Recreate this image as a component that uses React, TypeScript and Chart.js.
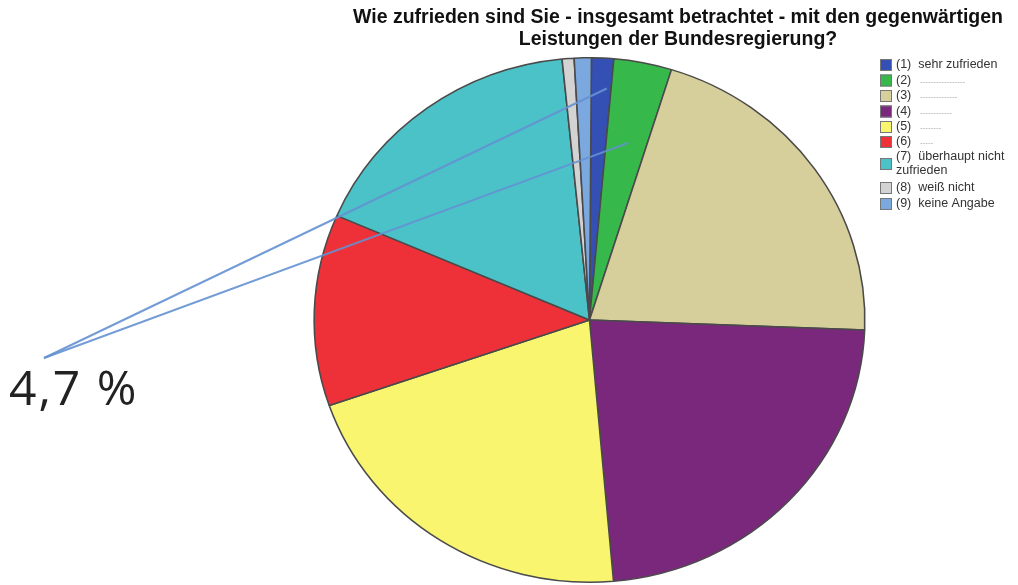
import React, { useEffect, useRef } from "react";
import { Chart, registerables } from "chart.js";

Chart.register(...registerables);

const categories = [
  "(1)  sehr zufrieden",
  "(2)  ",
  "(3)  ",
  "(4)  ",
  "(5)  ",
  "(6)  ",
  "(7)  überhaupt nicht",
  "(8)  weiß nicht",
  "(9)  keine Angabe",
];
const categoryExtraLine = ["", "", "", "", "", "", "zufrieden", "", ""];
const dashLabels = ["", "-----------------", "--------------", "------------", "--------", "-----", "", "", ""];
const shares = [1.3, 3.4, 20.8, 23.0, 21.1, 11.8, 16.9, 0.7, 1.0];
const sliceColors = [
  "#3550b5",
  "#37b84b",
  "#d6cf9b",
  "#7a287c",
  "#f9f56e",
  "#ee3139",
  "#4bc2c8",
  "#d3d3d3",
  "#7ca8e0",
];
const titleLines = [
  "Wie zufrieden sind Sie - insgesamt betrachtet - mit den gegenwärtigen",
  "Leistungen der Bundesregierung?",
];
const calloutText = "4,7 %";

const STRETCH_X = 1.05;

const overlayPlugin = {
  id: "overlay",
  beforeDatasetsDraw(chart: any) {
    const ctx = chart.ctx;
    const ca = chart.chartArea;
    const cx = (ca.left + ca.right) / 2;
    ctx.save();
    ctx.translate(cx, 0);
    ctx.scale(STRETCH_X, 1);
    ctx.translate(-cx, 0);
  },
  afterDatasetsDraw(chart: any) {
    chart.ctx.restore();
  },
  afterDraw(chart: any) {
    const ctx = chart.ctx;
    ctx.save();
    // title
    ctx.fillStyle = "#111";
    ctx.font = "bold 19.5px 'Liberation Sans', Arial, sans-serif";
    ctx.textAlign = "center";
    ctx.textBaseline = "middle";
    ctx.fillText(titleLines[0], 678, 18);
    ctx.fillText(titleLines[1], 678, 40);

    // legend
    const rowY = [65, 80.5, 96, 111.5, 127, 142, 164, 188, 204];
    ctx.textAlign = "left";
    const legendFont = "12.5px 'Liberation Sans', Arial, sans-serif";
    ctx.font = legendFont;
    categories.forEach((label, i) => {
      const y = rowY[i];
      ctx.fillStyle = sliceColors[i];
      ctx.fillRect(880, y - 6, 12, 12);
      ctx.strokeStyle = "#777";
      ctx.lineWidth = 1;
      ctx.strokeRect(880.5, y - 5.5, 11, 11);
      ctx.fillStyle = "#333";
      if (categoryExtraLine[i]) {
        ctx.fillText(label, 896, y - 7);
        ctx.fillText(categoryExtraLine[i], 896, y + 7);
      } else {
        ctx.fillText(label, 896, y);
      }
      if (dashLabels[i]) {
        ctx.fillStyle = "#a8a8a8";
        ctx.font = "8px 'Liberation Sans', Arial, sans-serif";
        ctx.fillText(dashLabels[i], 920, y + 1);
        ctx.font = legendFont;
      }
    });

    // callout lines
    const meta = chart.getDatasetMeta(0);
    const a0 = meta.data[0];
    const a1 = meta.data[1];
    const ax = 44;
    const ay = 358;
    const targets = [
      { arc: a0, t: 0.78, rf: 0.885 },
      { arc: a1, t: 0.55, rf: 0.69 },
    ];
    ctx.strokeStyle = "rgba(100,145,210,0.9)";
    ctx.lineWidth = 2;
    targets.forEach(({ arc, t, rf }) => {
      const ang = arc.startAngle + t * (arc.endAngle - arc.startAngle);
      const r = arc.outerRadius * rf;
      ctx.beginPath();
      ctx.moveTo(ax, ay);
      ctx.lineTo(arc.x + STRETCH_X * r * Math.cos(ang), arc.y + r * Math.sin(ang));
      ctx.stroke();
    });

    // callout text
    ctx.fillStyle = "#222";
    ctx.font = "48px 'Open Sans', 'DejaVu Sans', sans-serif";
    ctx.textAlign = "left";
    ctx.textBaseline = "alphabetic";
    (ctx as any).letterSpacing = "2px";
    ctx.fillText(calloutText, 9, 405);
    ctx.restore();
  },
};

export default function App() {
  const ref = useRef<HTMLCanvasElement | null>(null);
  useEffect(() => {
    if (!ref.current) return;
    const chart = new Chart(ref.current, {
      type: "pie",
      data: {
        labels: categories.map((c, i) => (categoryExtraLine[i] ? c + " " + categoryExtraLine[i] : c)),
        datasets: [
          {
            data: shares,
            backgroundColor: sliceColors,
            borderColor: "#4a4a4a",
            borderWidth: 1.5,
          },
        ],
      },
      options: {
        responsive: false,
        animation: false,
        rotation: 0.4,
        layout: { padding: { left: 326.5, right: 165.5, top: 57, bottom: 17 } },
        plugins: {
          legend: { display: false },
          title: { display: false },
          tooltip: { enabled: false },
        },
      },
      plugins: [overlayPlugin],
    });
    return () => chart.destroy();
  }, []);
  return (
    <div
      style={{
        position: "fixed",
        left: 0,
        top: 0,
        width: 1018,
        height: 585,
        overflow: "hidden",
        background: "#fff",
      }}
    >
      <canvas ref={ref} width={1018} height={600} style={{ display: "block" }} />
    </div>
  );
}
